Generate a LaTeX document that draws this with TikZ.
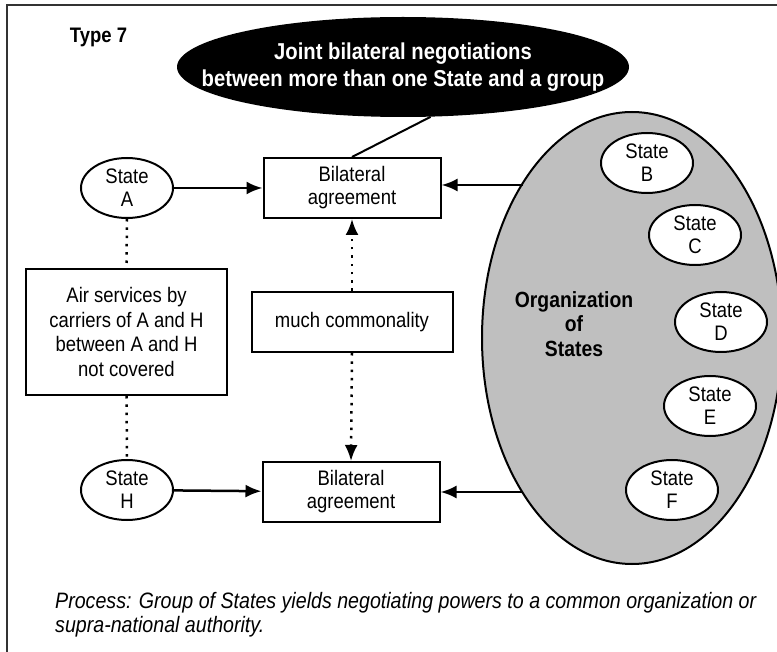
\documentclass[tikz,border=0pt]{standalone}
\usepackage{fontspec}
\setmainfont{Liberation Sans}[FakeStretch=0.88]
\usepackage{tikz}
\usetikzlibrary{shapes.geometric,arrows.meta}
\definecolor{orggray}{gray}{0.75}

\begin{document}
\begin{tikzpicture}[x=1pt,y=-1pt,
		state/.style={ellipse,draw,line width=2pt,fill=white,inner sep=-4pt,minimum width=92pt,minimum height=60pt,align=center,font=\fontsize{21}{23}\selectfont},
		agree/.style={rectangle,draw,line width=2pt,inner sep=0pt,minimum width=177pt,minimum height=60pt,align=center,font=\fontsize{21}{23}\selectfont},
		solidarrow/.style={line width=2.5pt,-{Latex[length=16pt,width=13pt]}},
		dotline/.style={line width=2.5pt,dash pattern=on 2.5pt off 5.8pt},
		dotarrow/.style={dotline,-{Latex[length=16pt,width=13pt]}}]
            		\useasboundingbox (0,0) rectangle (777,652);
            		\clip (0,0) rectangle (777,652);
            		\draw[line width=1.5pt,black!80] (7,5) rectangle (790,662);

            		\node (type) at (98.5,37) [font=\bfseries\fontsize{21}{23}\selectfont] {Type 7};
            		\node (joint) at (403,67) [ellipse,fill=black,inner sep=0pt,minimum width=452pt,minimum height=100pt] {};
            		\node (jointtxt) at (joint.center) [text=white,align=center,font=\bfseries\fontsize{23}{27}\selectfont] {Joint bilateral negotiations\\between more than one State and a group};

            		\node (org) at (632,338) [ellipse,draw,line width=2pt,fill=orggray,inner sep=0pt,minimum width=300pt,minimum height=452pt] {};
            		\node (orgtxt) at (574,324) [align=center,font=\bfseries\fontsize{22}{24.5}\selectfont] {Organization\\of\\States};
            		\node (b) at (647,163) [state] {State\\B};
            		\node (c) at (695,235) [state] {State\\C};
            		\node (d) at (721,322) [state] {State\\D};
            		\node (e) at (710,406) [state] {State\\E};
            		\node (f) at (672,490) [state] {State\\F};

            		\node (a) at (127,188) [state] {State\\A};
            		\node (h) at (127,490) [state] {State\\H};
            		\node (ag1) at (352,188) [agree] {Bilateral\\agreement};
            		\node (ag2) at (351,492) [agree] {Bilateral\\agreement};
            		\node (much) at (352,322) [agree,minimum width=201pt] {much commonality};
            		\node (air) at (126.5,332) [agree,minimum width=201pt,minimum height=126pt,font=\fontsize{21}{24.5}\selectfont] {Air services by\\carriers of A and H\\between A and H\\not covered};

            		\coordinate (o1) at (523,185);
            		\coordinate (o2) at (523,492);

            		\draw[line width=2pt] (ag1.north) -- (joint.-61);
            		\draw[solidarrow] (a) -- (ag1);
            		\draw[solidarrow] (h) -- (ag2);
            		\draw[solidarrow] (o1) -- (o1 -| ag1.east);
            		\draw[solidarrow] (o2) -- (o2 -| ag2.east);
            		\draw[dotline] (a.south) -- (air.north);
            		\draw[dotline] (air.south) -- (h.north);
            		\draw[dotarrow] (much.north) -- (ag1.south);
            		\draw[dotarrow] (much.south) -- (ag2.north);

            		\node (note) at (55,615) [anchor=west,inner sep=0pt,align=left,font=\itshape\fontsize{22.3}{24}\selectfont] {Process: Group of States yields negotiating powers to a common organization or\\supra-national authority.};
        		\end{tikzpicture}
\end{document}
